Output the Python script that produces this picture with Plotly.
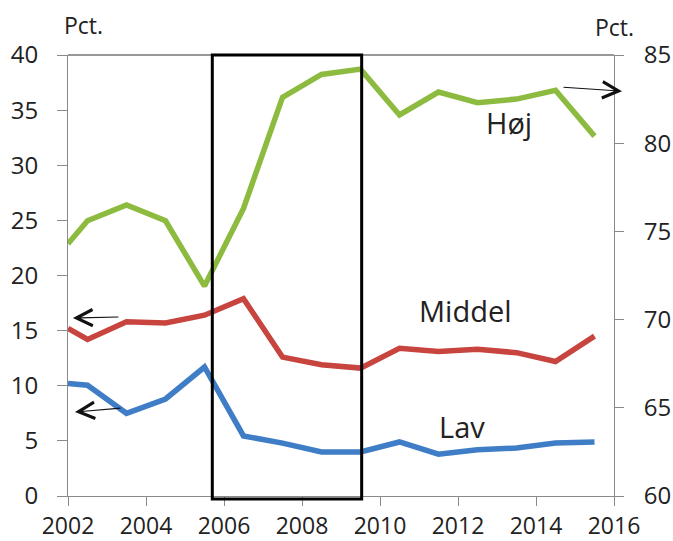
import plotly.graph_objects as go

# Data
years = [2002.0, 2002.5, 2003.5, 2004.5, 2005.5, 2006.5, 2007.5, 2008.5,
         2009.5, 2010.5, 2011.5, 2012.5, 2013.5, 2014.5, 2015.5]
hoj = [74.3, 75.6, 76.5, 75.6, 71.9, 76.3, 82.6, 83.9, 84.2, 81.6, 82.9, 82.3, 82.5, 83.0, 80.4]
middel = [15.2, 14.2, 15.8, 15.7, 16.4, 17.9, 12.6, 11.9, 11.6, 13.4, 13.1, 13.3, 13.0, 12.2, 14.5]
lav = [10.2, 10.05, 7.5, 8.8, 11.7, 5.45, 4.8, 4.0, 4.0, 4.9, 3.8, 4.2, 4.35, 4.8, 4.9]

x_ticks = [2002, 2004, 2006, 2008, 2010, 2012, 2014, 2016]
left_ticks = [0, 5, 10, 15, 20, 25, 30, 35, 40]
right_ticks = [60, 65, 70, 75, 80, 85]

FONT = "Open Sans"
GREEN = "#8CBB3F"
RED = "#C8443F"
BLUE = "#3F7DC6"
AXIS = "#8a8a8a"

fig = go.Figure()
fig.add_trace(go.Scatter(x=years, y=middel, mode="lines", line=dict(color=RED, width=5.5),
                         name="Middel", yaxis="y", cliponaxis=False))
fig.add_trace(go.Scatter(x=years, y=lav, mode="lines", line=dict(color=BLUE, width=5.5),
                         name="Lav", yaxis="y", cliponaxis=False))
fig.add_trace(go.Scatter(x=years, y=hoj, mode="lines", line=dict(color=GREEN, width=5.5),
                         name="Høj", yaxis="y2", cliponaxis=False))

tickfont = dict(family=FONT, size=24, color="#222222")
xtickfont = dict(family=FONT, size=23, color="#222222")

fig.update_layout(
    width=673, height=541,
    margin=dict(l=68, r=59, t=55, b=45, autoexpand=False),
    paper_bgcolor="white", plot_bgcolor="white",
    showlegend=False,
    xaxis=dict(range=[2002, 2016], tickvals=x_ticks, ticktext=[str(t) for t in x_ticks],
               showgrid=False, zeroline=False, showline=True, linecolor=AXIS, linewidth=1,
               ticks="outside", ticklen=9, tickcolor=AXIS, tickfont=xtickfont,
               ticklabelstandoff=0, automargin=False),
    yaxis=dict(range=[0, 40], tickvals=left_ticks, showgrid=False, zeroline=False,
               showline=True, linecolor=AXIS, linewidth=1, ticks="outside", ticklen=10,
               tickcolor=AXIS, tickfont=tickfont, ticklabelstandoff=14, automargin=False),
    yaxis2=dict(range=[60, 85], tickvals=right_ticks, overlaying="y", side="right",
                showgrid=False, zeroline=False, showline=True, linecolor=AXIS, linewidth=1,
                ticks="outside", ticklen=9, tickcolor=AXIS, tickfont=tickfont,
                ticklabelstandoff=15, automargin=False),
)

# top border of plot area
fig.add_shape(type="line", xref="paper", yref="paper", x0=0, x1=1, y0=1, y1=1,
              line=dict(color="#333333", width=1.2))
# highlight rectangle
fig.add_shape(type="rect", xref="x", yref="paper", x0=2005.7, x1=2009.53, y0=-0.007, y1=1.0,
              line=dict(color="black", width=3), fillcolor="rgba(0,0,0,0)")

labfont = dict(family=FONT, size=29, color="#222222")
fig.add_annotation(text="Høj", x=2013.3, y=81.15, xref="x", yref="y2", showarrow=False, font=labfont)
fig.add_annotation(text="Middel", x=2012.2, y=16.8, xref="x", yref="y", showarrow=False, font=labfont)
fig.add_annotation(text="Lav", x=2012.1, y=6.3, xref="x", yref="y", showarrow=False, font=labfont)

pctfont = dict(family=FONT, size=23, color="#222222")
fig.add_annotation(text="Pct.", x=0.0275, y=1.068, xref="paper", yref="paper", showarrow=False,
                   xanchor="center", yanchor="middle", font=pctfont)
fig.add_annotation(text="Pct.", x=1.0018, y=1.0635, xref="paper", yref="paper", showarrow=False,
                   xanchor="center", yanchor="middle", font=pctfont)

# arrows
arrow = dict(showarrow=True, arrowhead=5, arrowsize=2.9, arrowwidth=1.1, arrowcolor="#111111",
             axref="pixel", ayref="pixel", xref="paper", yref="paper", text="")
fig.add_annotation(x=1.0147, y=0.918, ax=-60, ay=-4, **arrow)
fig.add_annotation(x=0.009, y=0.4036, ax=47, ay=-1, **arrow)
fig.add_annotation(x=0.0128, y=0.1905, ax=47, ay=-4, **arrow)

fig.write_html(
    "out.html",
    config={"displayModeBar": False},
    post_script="document.body.style.margin='0';document.body.style.overflow='hidden';",
)
